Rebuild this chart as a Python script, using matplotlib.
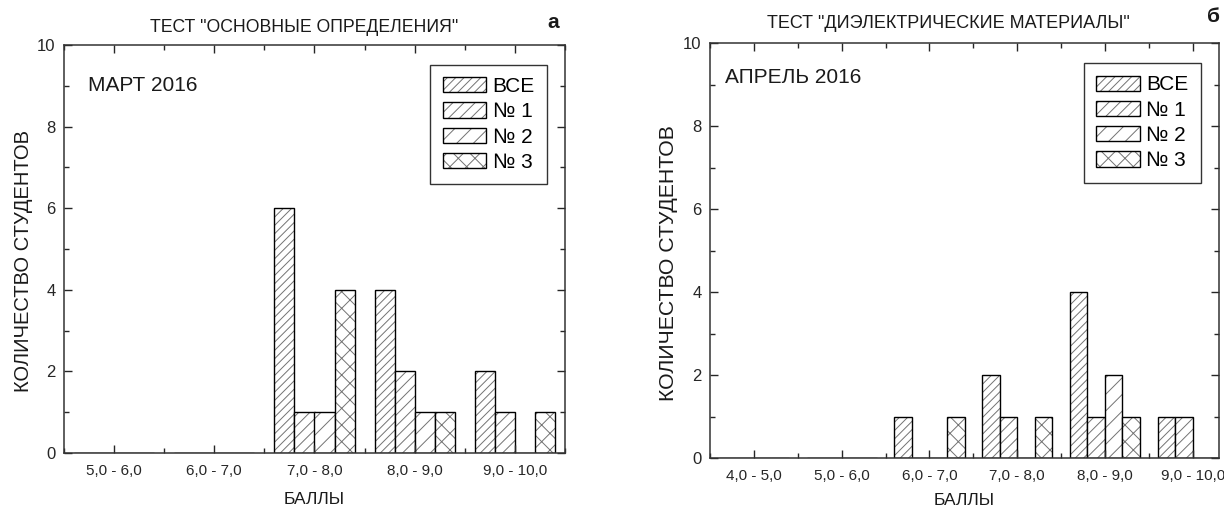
import numpy as np
import matplotlib
matplotlib.use("Agg")
import matplotlib.pyplot as plt
from matplotlib.patches import Patch
from matplotlib.legend_handler import HandlerTuple
from matplotlib.ticker import MultipleLocator, FixedLocator, FixedFormatter

plt.rcParams['font.family'] = ['Liberation Sans', 'DejaVu Sans']
plt.rcParams['hatch.linewidth'] = 0.7

# panel a: test "basic definitions", March 2016
groups_a = ["5,0 - 6,0", "6,0 - 7,0", "7,0 - 8,0", "8,0 - 9,0", "9,0 - 10,0"]
vse_a = [0, 0, 6, 4, 2]
n1_a = [0, 0, 1, 2, 1]
n2_a = [0, 0, 1, 1, 0]
n3_a = [0, 0, 4, 1, 1]

# panel b: test "dielectric materials", April 2016
groups_b = ["4,0 - 5,0", "5,0 - 6,0", "6,0 - 7,0", "7,0 - 8,0", "8,0 - 9,0", "9,0 - 10,0"]
vse_b = [0, 0, 1, 2, 4, 1]
n1_b = [0, 0, 0, 1, 1, 1]
n2_b = [0, 0, 0, 0, 2, 0]
n3_b = [0, 0, 1, 1, 1, 0]

series_labels = ["ВСЕ", "№ 1", "№ 2", "№ 3"]
hatches = ['////', '///', '//', 'xx']
hatch_col = '0.45'

W, H = 1224, 511
fig = plt.figure(figsize=(W / 100, H / 100), dpi=100)


def px_axes(x0, x1, ytop, ybot):
    return fig.add_axes([x0 / W, 1 - ybot / H, (x1 - x0) / W, (ybot - ytop) / H])


def draw_panel(ax, groups, start, series, xlim, note, ylab_size, xlab_y):
    x = np.arange(len(groups)) + start
    width = 0.2
    handles = []
    for i, (vals, hatch) in enumerate(zip(series, hatches)):
        pos = x + (i - 1.5) * width
        # hatch layer in grey, then black outline on top
        ax.bar(pos, vals, width, color='white', edgecolor=hatch_col,
               linewidth=0, hatch=hatch)
        ax.bar(pos, vals, width, fill=False, edgecolor='black', linewidth=1.0)
        h1 = Patch(facecolor='white', edgecolor=hatch_col, linewidth=0, hatch=hatch)
        h2 = Patch(fill=False, edgecolor='black', linewidth=1.0)
        handles.append((h1, h2))

    ax.set_xlim(*xlim)
    ax.set_ylim(0, 10)
    ax.xaxis.set_major_locator(FixedLocator(x))
    ax.xaxis.set_major_formatter(FixedFormatter(groups))
    ax.xaxis.set_minor_locator(MultipleLocator(0.5))
    ax.yaxis.set_major_locator(MultipleLocator(2))
    ax.yaxis.set_minor_locator(MultipleLocator(1))
    ax.tick_params(which='both', direction='in', top=True, right=True, colors='0.15')
    ax.tick_params(which='major', length=6, width=1)
    ax.tick_params(which='minor', length=3.5, width=1)
    ax.tick_params(axis='x', labelsize=11, pad=8, labelcolor='0.15')
    ax.tick_params(axis='y', labelsize=12, pad=6, labelcolor='0.15')
    for s in ax.spines.values():
        s.set_linewidth(1.1)
        s.set_color('0.2')

    ax.set_ylabel("КОЛИЧЕСТВО СТУДЕНТОВ", fontsize=ylab_size, color='0.1')
    ax.yaxis.set_label_coords(-0.062, 0.47)
    ax.set_xlabel("БАЛЛЫ", fontsize=12.5, color='0.1')
    ax.xaxis.set_label_coords(0.5, xlab_y)

    ax.text(note[1], note[2], note[0], transform=ax.transAxes, fontsize=15,
            va='center', ha='left', color='0.1')

    leg = ax.legend(handles, series_labels, handler_map={tuple: HandlerTuple(ndivide=1)},
                    loc='upper right', bbox_to_anchor=(0.965, 0.952), fontsize=15,
                    frameon=True, fancybox=False, framealpha=1, edgecolor='0.2',
                    handlelength=2.1, handleheight=0.75, handletextpad=0.3,
                    labelspacing=0.3, borderpad=0.6, borderaxespad=0)
    leg.get_frame().set_linewidth(1.0)


ax1 = px_axes(64, 565, 45, 453)
draw_panel(ax1, groups_a, 5, [vse_a, n1_a, n2_a, n3_a], (4.5, 9.5),
           ("МАРТ 2016", 0.048, 0.90), 14.5, -0.095)

ax2 = px_axes(710, 1219, 43, 458)
draw_panel(ax2, groups_b, 4, [vse_b, n1_b, n2_b, n3_b], (3.5, 9.3),
           ("АПРЕЛЬ 2016", 0.03, 0.918), 15.3, -0.085)

fig.text(304 / W, 1 - 28 / H, 'ТЕСТ "ОСНОВНЫЕ ОПРЕДЕЛЕНИЯ"', ha='center', va='center',
         fontsize=12.7, color='0.1')
fig.text(553 / W, 1 - 22 / H, 'а', ha='center', va='center', fontsize=15,
         fontweight='bold', color='0.1')
fig.text(948 / W, 1 - 24 / H, 'ТЕСТ "ДИЭЛЕКТРИЧЕСКИЕ МАТЕРИАЛЫ"', ha='center', va='center',
         fontsize=13, color='0.1')
fig.text(1214 / W, 1 - 17 / H, 'б', ha='center', va='center', fontsize=15,
         fontweight='bold', color='0.1')

fig.savefig('out.png', dpi=100)
